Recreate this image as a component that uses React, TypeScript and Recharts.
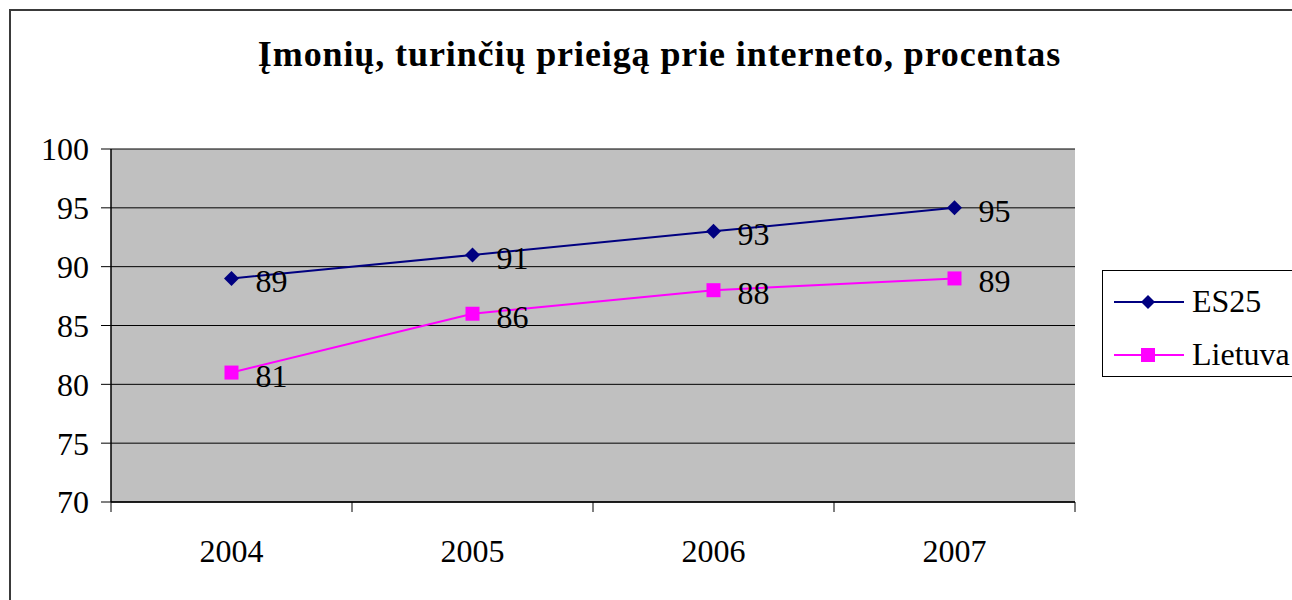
import { useLayoutEffect, useRef } from 'react';
import { LineChart, Line, XAxis, YAxis, CartesianGrid, Legend, LabelList } from 'recharts';

const years = ['2004', '2005', '2006', '2007'];
const es25 = [89, 91, 93, 95];
const lietuva = [81, 86, 88, 89];
const yTicks = [70, 75, 80, 85, 90, 95, 100];

const data = years.map((year, i) => ({ year, es25: es25[i], lietuva: lietuva[i] }));

const FONT = "'Liberation Serif', 'Times New Roman', serif";
const NAVY = '#000080';
const MAGENTA = '#FF00FF';
const CHART_W = 1292;
const CHART_H = 600;
const MARGIN = { top: 149, right: 217, bottom: 38, left: 0 };
const BAND = (CHART_W - MARGIN.right - 111) / years.length;
const TEXT_SIZE = 32;

// some global rule kept overriding the serif face, so force it here
const fontFix = `#root, #root *, #root svg text, #root svg tspan { font-family: ${FONT} !important; }`;

const Diamond = (props: any) => {
    const { cx, cy } = props;
    if (cx == null || cy == null) return null;
    return <path d={`M${cx},${cy - 7.5}L${cx + 7.5},${cy}L${cx},${cy + 7.5}L${cx - 7.5},${cy}Z`} fill={NAVY} />;
};

const Square = (props: any) => {
    const { cx, cy } = props;
    if (cx == null || cy == null) return null;
    return <rect x={cx - 7} y={cy - 7} width={14} height={14} fill={MAGENTA} />;
};

const valueLabel = (props: any) => {
    const { x, y, value } = props;
    return (
        <text x={x + 24} y={y + 3} fontSize={TEXT_SIZE} fontFamily={FONT} fill="#000" dominantBaseline="central">
            {value}
        </text>
    );
};

const XTick = (props: any) => {
    const { x, y, payload, index } = props;
    return (
        <g>
            <line x1={x - BAND / 2} y1={y - 10} x2={x - BAND / 2} y2={y} stroke="#000" />
            {index === years.length - 1 && (
                <line x1={x + BAND / 2} y1={y - 10} x2={x + BAND / 2} y2={y} stroke="#000" />
            )}
            <text x={x} y={y + 50} textAnchor="middle" fontSize={TEXT_SIZE} fontFamily={FONT} fill="#000">
                {payload.value}
            </text>
        </g>
    );
};

const renderLegend = (props: any) => {
    const { payload } = props;
    return (
        <div
            style={{
                border: '1.5px solid #000',
                background: '#fff',
                width: 200,
                height: 107,
                boxSizing: 'border-box',
                paddingTop: 8,
            }}
        >
            {payload.map((entry: any, i: number) => (
                <div key={entry.value} style={{ display: 'flex', alignItems: 'center', height: 45, marginTop: i === 0 ? 0 : 8 }}>
                    <svg width={84} height={20} style={{ marginLeft: 11 }}>
                        <line x1={0} y1={10} x2={70} y2={10} stroke={entry.color} strokeWidth={2} />
                        {i === 0 ? (
                            <path d="M34,3L41,10L34,17L27,10Z" fill={entry.color} />
                        ) : (
                            <rect x={27} y={3} width={14} height={14} fill={entry.color} />
                        )}
                    </svg>
                    <span style={{ fontFamily: FONT, fontSize: TEXT_SIZE, color: '#000', marginLeft: -6 }}>{entry.value}</span>
                </div>
            ))}
        </div>
    );
};

export default function App() {
    const boxRef = useRef<HTMLDivElement>(null);

    useLayoutEffect(() => {
        const box = boxRef.current;
        if (!box) return;
        const apply = () => {
            box.querySelectorAll('text, tspan, span, div').forEach((el) => {
                (el as HTMLElement).style.setProperty('font-family', FONT, 'important');
            });
        };
        apply();
        const obs = new MutationObserver(apply);
        obs.observe(box, { childList: true, subtree: true });
        return () => obs.disconnect();
    }, []);

    return (
        <div
            ref={boxRef}
            style={{ position: 'absolute', left: 0, top: 0, width: CHART_W, height: CHART_H, overflow: 'hidden', background: '#fff', fontFamily: FONT }}
        >
            <style>{fontFix}</style>
            <div
                style={{
                    position: 'absolute',
                    left: 9,
                    top: 9,
                    width: 1400,
                    height: 700,
                    border: '2px solid #3a3a3a',
                }}
            />
            <div
                style={{
                    position: 'absolute',
                    left: 0,
                    top: 33,
                    width: 1319,
                    textAlign: 'center',
                    fontFamily: FONT,
                    fontWeight: 'bold',
                    fontSize: 36,
                    letterSpacing: 0.9,
                    color: '#000',
                }}
            >
                Įmonių, turinčių prieigą prie interneto, procentas
            </div>
            <div style={{ position: 'absolute', left: 0, top: 0 }}>
                <LineChart width={CHART_W} height={CHART_H} data={data} margin={MARGIN} style={{ fontFamily: FONT }}>
                    <CartesianGrid vertical={false} stroke="#000" fill="#C0C0C0" strokeWidth={1} />
                    <XAxis
                        dataKey="year"
                        scale="band"
                        height={60}
                        axisLine={{ stroke: '#000', strokeWidth: 1.5 }}
                        tickLine={false}
                        tick={<XTick />}
                        tickSize={10}
                        tickMargin={0}
                        interval={0}
                    />
                    <XAxis xAxisId="top" orientation="top" dataKey="year" scale="band" height={0} tick={false} tickLine={false} axisLine={{ stroke: '#808080', strokeWidth: 2 }} />
                    <YAxis
                        domain={[70, 100]}
                        ticks={yTicks}
                        width={111}
                        interval={0}
                        axisLine={{ stroke: '#000', strokeWidth: 1.5 }}
                        tickLine={{ stroke: '#000' }}
                        tickSize={10}
                        tickMargin={12}
                        tick={{ fontSize: TEXT_SIZE, fontFamily: FONT, fill: '#000' }}
                    />
                    <YAxis yAxisId="right" orientation="right" domain={[70, 100]} width={0} tick={false} tickLine={false} axisLine={{ stroke: '#808080', strokeWidth: 3 }} />
                    <Line
                        dataKey="es25"
                        name="ES25"
                        stroke={NAVY}
                        strokeWidth={2}
                        dot={<Diamond />}
                        activeDot={false}
                        isAnimationActive={false}
                    >
                        <LabelList dataKey="es25" content={valueLabel} />
                    </Line>
                    <Line
                        dataKey="lietuva"
                        name="Lietuva"
                        stroke={MAGENTA}
                        strokeWidth={2}
                        dot={<Square />}
                        activeDot={false}
                        isAnimationActive={false}
                    >
                        <LabelList dataKey="lietuva" content={valueLabel} />
                    </Line>
                    <Legend
                        content={renderLegend}
                        wrapperStyle={{ position: 'absolute', left: 1102, top: 270, width: 0, height: 0, overflow: 'visible' }}
                    />
                </LineChart>
            </div>
        </div>
    );
}
